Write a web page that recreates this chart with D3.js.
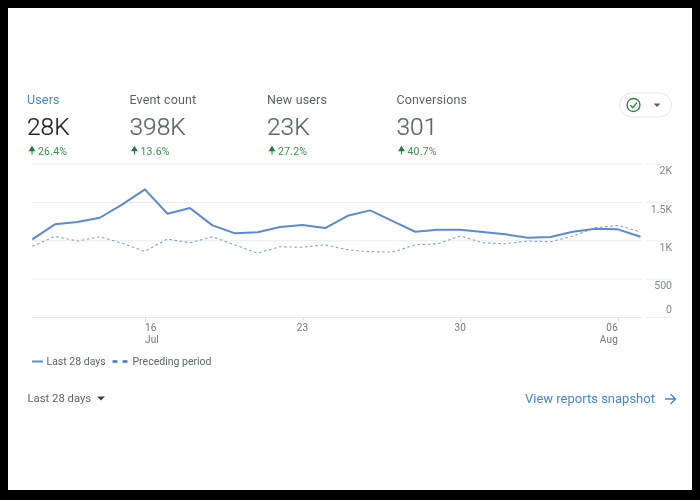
<!DOCTYPE html>
<html><head><meta charset="utf-8">
<script src="https://d3js.org/d3.v7.min.js"></script>
<style>
html,body{margin:0;padding:0;background:#000;width:700px;height:500px;overflow:hidden}
svg{display:block;font-family:Roboto,sans-serif;filter:blur(.35px)}
</style></head><body>
<svg id="c" width="700" height="500"></svg>
<script>
const days = ["2023-07-11","2023-07-12","2023-07-13","2023-07-14","2023-07-15","2023-07-16","2023-07-17","2023-07-18","2023-07-19","2023-07-20","2023-07-21","2023-07-22","2023-07-23","2023-07-24","2023-07-25","2023-07-26","2023-07-27","2023-07-28","2023-07-29","2023-07-30","2023-07-31","2023-08-01","2023-08-02","2023-08-03","2023-08-04","2023-08-05","2023-08-06","2023-08-07"];
const last28 = [1012,1207,1237,1293,1467,1663,1345,1419,1194,1090,1103,1172,1198,1159,1319,1389,1250,1111,1137,1137,1107,1077,1032,1042,1111,1150,1142,1046];
const preceding = [921,1051,990,1046,960,855,1016,967,1046,937,833,915,908,941,876,850,846,941,954,1055,967,954,990,980,1055,1163,1194,1107];
const yTicks = [0,500,1000,1500,2000];
const yLabels = ["0","500","1K","1.5K","2K"];
const xTickDates = ["2023-07-16","2023-07-23","2023-07-30","2023-08-06"];
const xTickLabels = [["16","Jul"],["23"],["30"],["06","Aug"]];
const metricNames = ["Users","Event count","New users","Conversions"];
const metricValues = ["28K","398K","23K","301"];
const metricDeltas = ["26.4%","13.6%","27.2%","40.7%"];
const legendLabels = ["Last 28 days","Preceding period"];

const BLUE="#5b8ad6", GREY="#5f6368", GREEN="#3a8f4f", LINK="#4a82d6";
const svg=d3.select("#c");
svg.append("rect").attr("x",8).attr("y",8).attr("width",684).attr("height",482).attr("fill","#fff");

// metric header
const mx=[27,129.5,267,396.5];
const tabs=svg.selectAll("g.tab").data(metricNames).join("g").attr("class","tab")
  .attr("transform",(d,i)=>`translate(${mx[i]},0)`);
tabs.append("text").attr("y",104).attr("font-size",12.5).attr("letter-spacing",.15).attr("fill",(d,i)=>i?GREY:LINK).text(d=>d);
tabs.append("text").attr("y",135).attr("font-size",24.5).attr("font-weight",300)
  .attr("stroke-width",.2).attr("fill",(d,i)=>i?"#5f6368":"#202124").attr("stroke",(d,i)=>i?"#5f6368":"#202124")
  .text((d,i)=>metricValues[i]);
tabs.append("path").attr("d","M5 154.5V149M2.6 150.6L5 146.8L7.4 150.6Z")
  .attr("stroke","#1e7e34").attr("stroke-width",1.1).attr("fill","#1e7e34");
tabs.append("text").attr("x",11).attr("y",155).attr("font-size",10.5).attr("letter-spacing",.2).attr("fill",GREEN)
  .text((d,i)=>metricDeltas[i]);

// pill
svg.append("rect").attr("x",619.5).attr("y",93).attr("width",52).attr("height",24).attr("rx",12)
  .attr("fill","#fff").attr("stroke","#e3e5e8");
svg.append("circle").attr("cx",633.5).attr("cy",105).attr("r",6.5).attr("fill","none").attr("stroke","#2e7d42").attr("stroke-width",1.3);
svg.append("path").attr("d","M630.3 105.2L632.8 107.7L636.9 102.6").attr("fill","none").attr("stroke","#2e7d42").attr("stroke-width",1.3);
svg.append("path").attr("d","M653.5 103.5H660.5L657 107Z").attr("fill",GREY);

// scales
const parse=d3.utcParse("%Y-%m-%d");
const x=d3.scaleUtc().domain([parse(days[0]),parse(days[days.length-1])]).range([32.3,640.5]);
const y=d3.scaleLinear().domain([0,2000]).range([317,163.5]);

// y axis grid
const gridA=svg.append("g").attr("transform","translate(32,0)")
  .call(d3.axisRight(y).tickValues(yTicks).tickSize(610).tickFormat(""));
gridA.select(".domain").remove();
gridA.selectAll("line").attr("stroke","#e8eaed");
const gridB=svg.append("g").attr("transform","translate(645,0)")
  .call(d3.axisRight(y).tickValues(yTicks).tickSize(27).tickFormat(""));
gridB.select(".domain").remove();
gridB.selectAll("line").attr("stroke","#eceef0");
// y labels
const labelY=[313.3,289,250.5,212.5,174];
svg.selectAll("text.yl").data(yLabels).join("text").attr("class","yl")
  .attr("x",672).attr("y",(d,i)=>labelY[i]).attr("text-anchor","end").attr("font-size",10.5).attr("fill","#80868b").text(d=>d);

// x axis
const xa=svg.append("g").attr("transform","translate(0,317)")
  .call(d3.axisBottom(x).tickValues(xTickDates.map(parse)).tickSize(5).tickFormat(""));
xa.select(".domain").remove();
xa.selectAll("line").attr("stroke","#dadce0");
xTickDates.forEach((d,i)=>{
  const px=x(parse(d));
  const t=svg.append("text").attr("font-size",10).attr("letter-spacing",.2).attr("fill","#70757a")
    .attr("text-anchor",i===3?"end":(i===0?"start":"middle"));
  xTickLabels[i].forEach((s,j)=>t.append("tspan").attr("x",px).attr("y",j?342.5:330.5).text(s));
});

// lines
const line=d3.line().x((d,i)=>x(parse(days[i]))).y(d=>y(d));
svg.append("path").datum(preceding).attr("d",line).attr("fill","none").attr("stroke","#7d9fdc").attr("stroke-width",1.1).attr("stroke-dasharray","2.6 2.6");
svg.append("path").datum(last28).attr("d",line).attr("fill","none").attr("stroke",BLUE).attr("stroke-width",2).attr("stroke-linejoin","round");

// legend
svg.append("path").attr("d","M32 361.5H43").attr("stroke",BLUE).attr("stroke-width",2);
svg.append("text").attr("x",46.5).attr("y",365).attr("font-size",10.5).attr("fill",GREY).text(legendLabels[0]);
svg.append("path").attr("d","M112.5 361.5H128").attr("stroke","#3f77cf").attr("stroke-width",2.4).attr("stroke-dasharray","5 5");
svg.append("text").attr("x",132.5).attr("y",365).attr("font-size",10.5).attr("fill",GREY).text(legendLabels[1]);

// footer
svg.append("text").attr("x",27.5).attr("y",402).attr("font-size",11.3).attr("fill",GREY).text("Last 28 days");
svg.append("path").attr("d","M97 396.5H105L101 400.5Z").attr("fill","#3c4043");
svg.append("text").attr("x",525).attr("y",403).attr("font-size",13).attr("fill",LINK).text("View reports snapshot");
svg.append("path").attr("d","M665 399H675M670.5 394L675.5 399L670.5 404").attr("fill","none").attr("stroke",LINK).attr("stroke-width",1.4);
</script>
</body></html>
